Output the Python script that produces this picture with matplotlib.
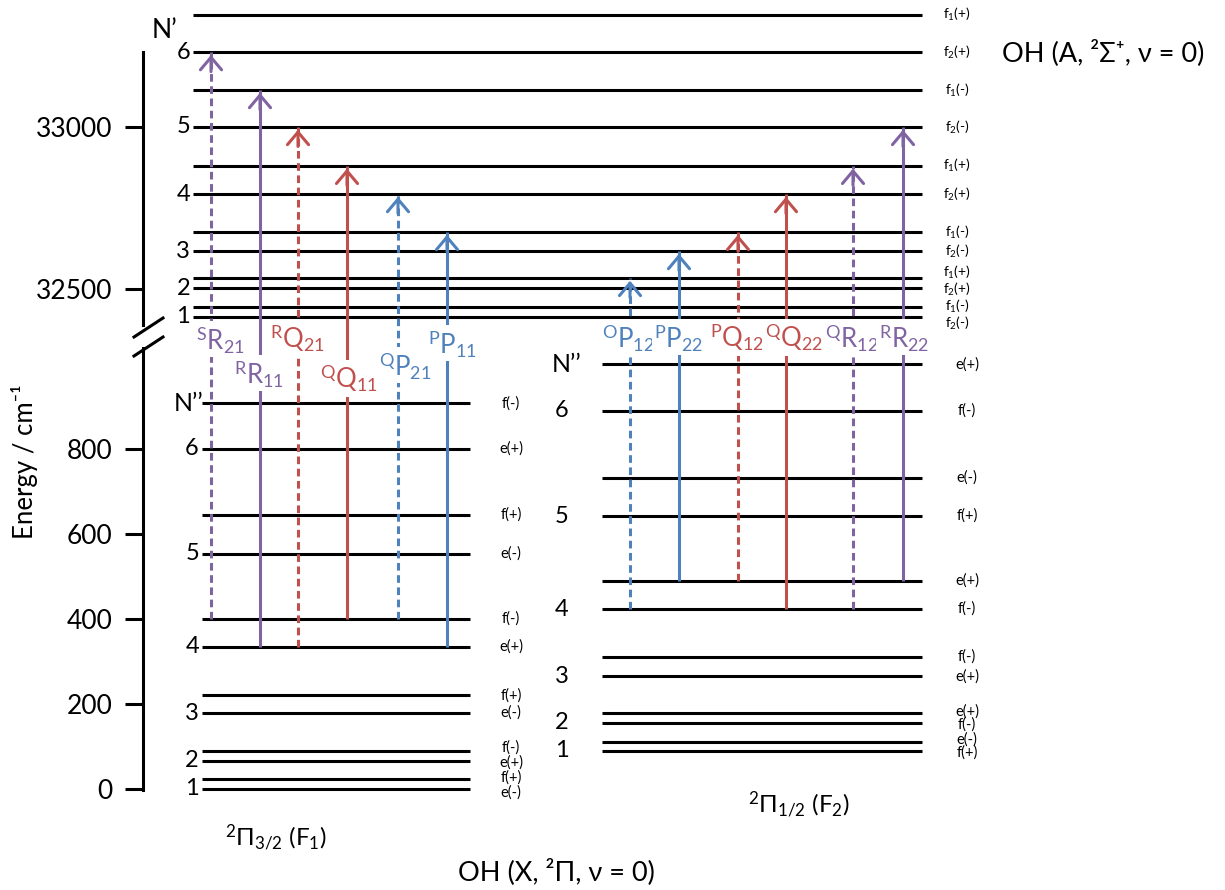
import numpy as np
import matplotlib.pyplot as plt

plt.rcParams['font.family'] = ['Lato', 'DejaVu Sans']
plt.rcParams['mathtext.fontset'] = 'custom'
plt.rcParams['mathtext.rm'] = 'Lato'
plt.rcParams['mathtext.it'] = 'Lato:italic'
plt.rcParams['mathtext.bf'] = 'Lato:bold'
plt.rcParams['mathtext.fallback'] = 'stixsans'

# OH A 2Sigma+ (v=0) rotational levels, cm-1, top to bottom
up_E = [33346, 33231, 33114, 33000, 32880, 32793, 32676, 32617, 32534, 32503, 32444, 32414]
up_sym = ['f$_1$(+)', 'f$_2$(+)', 'f$_1$(-)', 'f$_2$(-)', 'f$_1$(+)', 'f$_2$(+)',
          'f$_1$(-)', 'f$_2$(-)', 'f$_1$(+)', 'f$_2$(+)', 'f$_1$(-)', 'f$_2$(-)']

# OH X 2Pi3/2 (F1) levels
f1_E = [909, 801, 646, 554, 401, 335, 221, 179, 90, 66, 24, 0]
f1_sym = ['f(-)', 'e(+)', 'f(+)', 'e(-)', 'f(-)', 'e(+)',
          'f(+)', 'e(-)', 'f(-)', 'e(+)', 'f(+)', 'e(-)']

# OH X 2Pi1/2 (F2) levels
f2_E = [1001, 891, 733, 643, 490, 424, 311, 266, 179, 156, 111, 90]
f2_sym = ['e(+)', 'f(-)', 'e(-)', 'f(+)', 'e(+)', 'f(-)',
          'f(-)', 'e(+)', 'e(+)', 'f(-)', 'e(-)', 'f(+)']

N_num = ['6', '5', '4', '3', '2', '1']   # one per pair of levels

# transitions
tr_sup = ['S', 'R', 'R', 'Q', 'Q', 'P', 'O', 'P', 'P', 'Q', 'Q', 'R']
tr_branch = ['R', 'R', 'Q', 'Q', 'P', 'P', 'P', 'P', 'Q', 'Q', 'R', 'R']
tr_sub = ['21', '11', '21', '11', '21', '11', '12', '22', '12', '22', '12', '22']
tr_low_idx = [4, 5, 5, 4, 4, 5, 5, 4, 4, 5, 5, 4]
tr_up_idx = [1, 2, 3, 4, 5, 6, 8, 7, 6, 5, 4, 3]

yticks = [0, 200, 400, 600, 800, 32500, 33000]

colors = {'R': '#8064A2', 'Q': '#C0504D', 'P': '#4F81BD'}

W, H = 1225, 890
Y0 = 789   # pixel row of E = 0


def px(x, y):
    """pixel (top-left origin) -> axes fraction"""
    return x / W, 1 - y / H


# broken energy axis: two linear pieces joined by a squeezed gap
bE = [-3000, 1020, 32380, 36000]
bu = [0.4245 * -3000, 0.4245 * 1020, 500 + 0.324 * (32380 - 32500), 500 + 0.324 * (36000 - 32500)]


def fwd(e):
    return np.interp(e, bE, bu)


def inv(u):
    return np.interp(u, bu, bE)


def spread(energies, gap):
    """push labels apart so they don't overlap (gap in pixels)"""
    ys = [Y0 - fwd(e) for e in energies]
    for _ in range(80):
        for j in range(len(ys) - 1):
            if ys[j + 1] - ys[j] < gap:
                m = (ys[j] + ys[j + 1]) / 2
                ys[j], ys[j + 1] = m - gap / 2, m + gap / 2
    return [inv(Y0 - y) for y in ys]


fig = plt.figure(figsize=(W / 100, H / 100), dpi=100)
ax = fig.add_axes([0, 0, 1, 1])
ax.set_yscale('function', functions=(fwd, inv))
ax.set_xlim(0, W)
ax.set_ylim(inv(Y0 - H), inv(Y0))
for s in ax.spines.values():
    s.set_visible(False)
ax.spines['left'].set_position(('data', 143))
ax.set_xticks([])
ax.set_yticks(yticks)
ax.set_yticklabels([str(t) for t in yticks])
ax.tick_params(axis='y', direction='out', length=13, width=2.2, labelsize=19, pad=9)

# axis line with break
lk = dict(color='black', lw=2.2, transform=ax.transAxes, clip_on=False)
ax.plot(*zip(px(143, 52), px(143, 325)), **lk)
ax.plot(*zip(px(143, 348), px(143, 790)), **lk)
ax.plot(*zip(px(134, 337), px(163, 318)), **lk)
ax.plot(*zip(px(134, 356), px(163, 337)), **lk)

# levels
ax.hlines(up_E, 193, 922, colors='black', lw=2.2, zorder=2)
ax.hlines(f1_E, 202, 470, colors='black', lw=2.2, zorder=2)
ax.hlines(f2_E, 602, 922, colors='black', lw=2.2, zorder=2)

for e, s in zip(spread(up_E, 17), up_sym):
    ax.text(957, e, s, fontsize=10, ha='center', va='center')
for e, s in zip(spread(f1_E, 15), f1_sym):
    ax.text(511, e, s, fontsize=10.5, ha='center', va='center')
for e, s in zip(spread(f2_E, 13), f2_sym):
    ax.text(967, e, s, fontsize=10.5, ha='center', va='center')

for k, n in enumerate(N_num):
    ax.text(190, up_E[2 * k + 1], n, fontsize=17, ha='right', va='center')
    ax.text(199, f1_E[2 * k + 1], n, fontsize=17, ha='right', va='center')
    ax.text(562, f2_E[2 * k + 1], n, fontsize=17, ha='center', va='center')

ax.text(*px(165, 30), 'N’', fontsize=19, ha='center', va='center', transform=ax.transAxes)
ax.text(204, f1_E[0], 'N’’', fontsize=18, ha='right', va='center')
ax.text(581, f2_E[0], 'N’’', fontsize=18, ha='right', va='center')

# transitions
arrow_x = [211, 260, 298, 347, 398, 447, 630, 679, 738, 786, 853, 903]
label_x = [220, 259, 297, 349, 405, 452, 628, 679, 737, 794, 852, 904]
label_y = [349, 383, 348, 388, 375, 353, 347, 347, 347, 347, 347, 347]

for i in range(len(tr_sub)):
    c = colors[tr_branch[i]]
    low = f1_E if tr_sub[i][1] == '1' else f2_E
    e0 = low[tr_low_idx[i]]
    e1 = up_E[tr_up_idx[i]]
    dashed = tr_sub[i][0] != tr_sub[i][1]
    ls = (0, (2.5, 1.5)) if dashed else 'solid'
    ax.vlines(arrow_x[i], e0, e1, colors=c, lw=2.2, linestyles=[ls], zorder=3)
    ax.annotate('', xy=(arrow_x[i], e1), xytext=(0, -14), textcoords='offset points',
                arrowprops=dict(arrowstyle='->,head_length=0.45,head_width=0.38',
                                color=c, lw=2.2, shrinkA=0, shrinkB=2,
                                mutation_scale=20), zorder=3)
    name = '$^{\\mathrm{%s}}$%s$_{%s}$' % (tr_sup[i], tr_branch[i], tr_sub[i])
    ax.text(*px(label_x[i], label_y[i]), name, color=c, fontsize=18.5,
            ha='center', va='baseline', transform=ax.transAxes, zorder=4,
            bbox=dict(boxstyle='square,pad=0.1', fc='white', ec='none'))

# titles
ax.text(*px(1002, 53), 'OH (A, ²Σ⁺, ν = 0)', fontsize=19.5, ha='left', va='center',
        transform=ax.transAxes)
ax.text(*px(458, 872), 'OH (X, ²Π, ν = 0)', fontsize=19.5, ha='left', va='center',
        transform=ax.transAxes)
ax.text(*px(225, 838), '$^2$Π$_{3/2}$ (F$_1$)', fontsize=17.5, ha='left', va='center',
        transform=ax.transAxes)
ax.text(*px(748, 805), '$^2$Π$_{1/2}$ (F$_2$)', fontsize=17.5, ha='left', va='center',
        transform=ax.transAxes)
ax.text(*px(25, 462), 'Energy / cm⁻¹', fontsize=18.5, rotation=90, ha='center', va='center',
        transform=ax.transAxes)

fig.savefig('out.png', dpi=100)
